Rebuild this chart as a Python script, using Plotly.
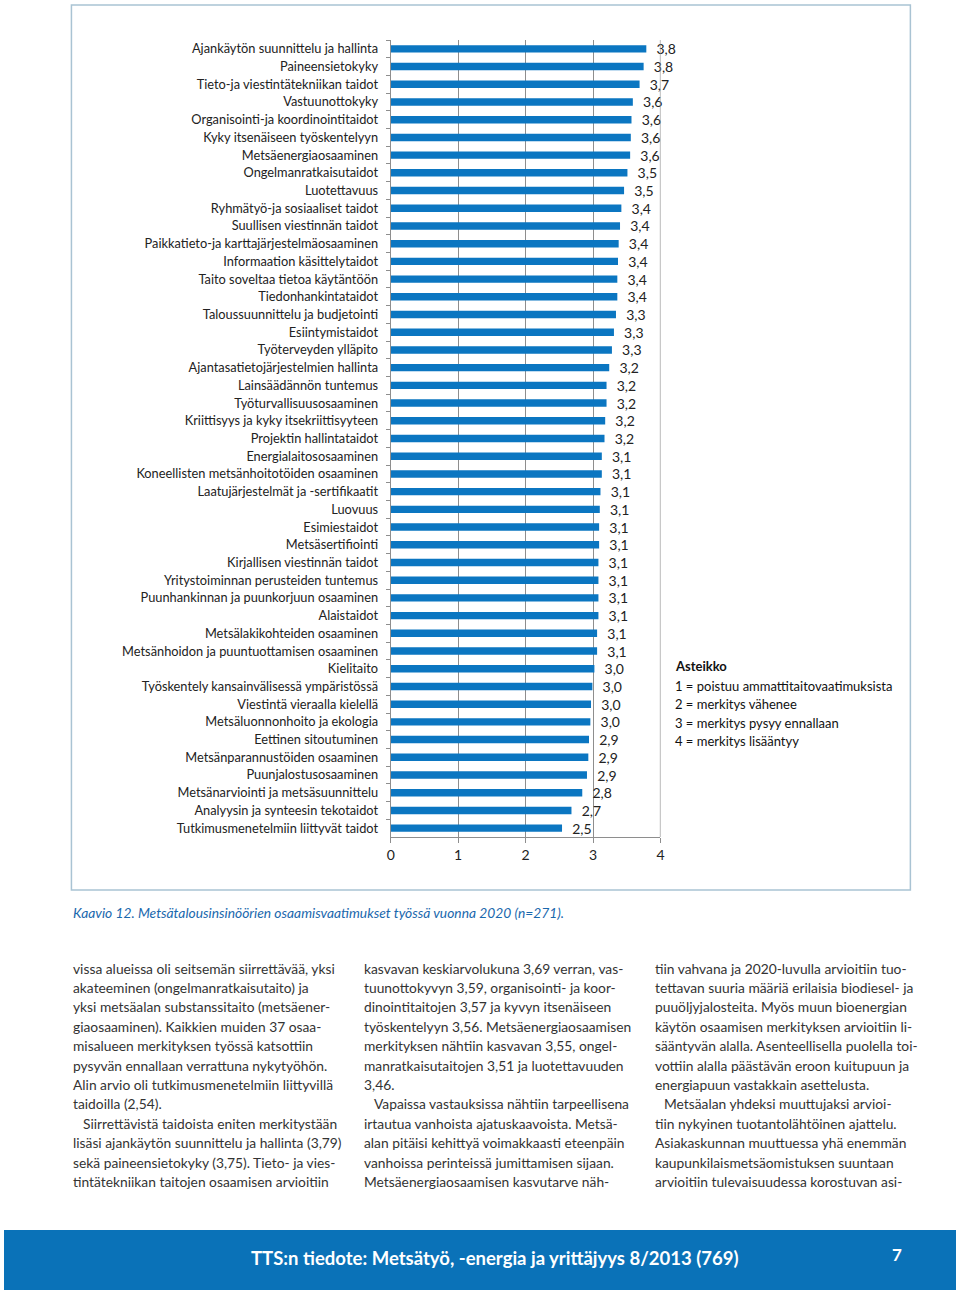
import plotly.graph_objects as go

W, H = 960, 1290

categories = [
    "Ajankäytön suunnittelu ja hallinta",
    "Paineensietokyky",
    "Tieto-ja viestintätekniikan taidot",
    "Vastuunottokyky",
    "Organisointi-ja koordinointitaidot",
    "Kyky itsenäiseen työskentelyyn",
    "Metsäenergiaosaaminen",
    "Ongelmanratkaisutaidot",
    "Luotettavuus",
    "Ryhmätyö-ja sosiaaliset taidot",
    "Suullisen viestinnän taidot",
    "Paikkatieto-ja karttajärjestelmäosaaminen",
    "Informaation käsittelytaidot",
    "Taito soveltaa tietoa käytäntöön",
    "Tiedonhankintataidot",
    "Taloussuunnittelu ja budjetointi",
    "Esiintymistaidot",
    "Työterveyden ylläpito",
    "Ajantasatietojärjestelmien hallinta",
    "Lainsäädännön tuntemus",
    "Työturvallisuusosaaminen",
    "Kriittisyys ja kyky itsekriittisyyteen",
    "Projektin hallintataidot",
    "Energialaitososaaminen",
    "Koneellisten metsänhoitotöiden osaaminen",
    "Laatujärjestelmät ja -sertifikaatit",
    "Luovuus",
    "Esimiestaidot",
    "Metsäsertifiointi",
    "Kirjallisen viestinnän taidot",
    "Yritystoiminnan perusteiden tuntemus",
    "Puunhankinnan ja puunkorjuun osaaminen",
    "Alaistaidot",
    "Metsälakikohteiden osaaminen",
    "Metsänhoidon ja puuntuottamisen osaaminen",
    "Kielitaito",
    "Työskentely kansainvälisessä ympäristössä",
    "Viestintä vieraalla kielellä",
    "Metsäluonnonhoito ja ekologia",
    "Eettinen sitoutuminen",
    "Metsänparannustöiden osaaminen",
    "Puunjalostusosaaminen",
    "Metsänarviointi ja metsäsuunnittelu",
    "Analyysin ja synteesin tekotaidot",
    "Tutkimusmenetelmiin liittyvät taidot",
]

values = [
    3.79, 3.75, 3.69, 3.59, 3.57, 3.56, 3.55, 3.51, 3.46, 3.42,
    3.40, 3.38, 3.37, 3.36, 3.36, 3.34, 3.31, 3.28, 3.24, 3.20,
    3.20, 3.18, 3.17, 3.13, 3.13, 3.11, 3.10, 3.09, 3.09, 3.08,
    3.08, 3.08, 3.08, 3.06, 3.06, 3.02, 2.99, 2.97, 2.96, 2.94,
    2.93, 2.91, 2.84, 2.68, 2.54,
]

value_labels = [
    "3,8", "3,8", "3,7", "3,6", "3,6", "3,6", "3,6", "3,5", "3,5", "3,4",
    "3,4", "3,4", "3,4", "3,4", "3,4", "3,3", "3,3", "3,3", "3,2", "3,2",
    "3,2", "3,2", "3,2", "3,1", "3,1", "3,1", "3,1", "3,1", "3,1", "3,1",
    "3,1", "3,1", "3,1", "3,1", "3,1", "3,0", "3,0", "3,0", "3,0", "2,9",
    "2,9", "2,9", "2,8", "2,7", "2,5",
]

x_ticks = [0, 1, 2, 3, 4]

scale_title = "Asteikko"
scale_lines = [
    "1 = poistuu ammattitaitovaatimuksista",
    "2 = merkitys vähenee",
    "3 = merkitys pysyy ennallaan",
    "4 = merkitys lisääntyy",
]

caption = "Kaavio 12. Metsätalousinsinöörien osaamisvaatimukset työssä vuonna 2020 (n=271)."

col1 = [
    "vissa alueissa oli seitsemän siirrettävää, yksi",
    "akateeminen (ongelmanratkaisutaito) ja",
    "yksi metsäalan substanssitaito (metsäener-",
    "giaosaaminen). Kaikkien muiden 37 osaa-",
    "misalueen merkityksen työssä katsottiin",
    "pysyvän ennallaan verrattuna nykytyöhön.",
    "Alin arvio oli tutkimusmenetelmiin liittyvillä",
    "taidoilla (2,54).",
    "Siirrettävistä taidoista eniten merkitystään",
    "lisäsi ajankäytön suunnittelu ja hallinta (3,79)",
    "sekä paineensietokyky (3,75). Tieto- ja vies-",
    "tintätekniikan taitojen osaamisen arvioitiin",
]
col2 = [
    "kasvavan keskiarvolukuna 3,69 verran, vas-",
    "tuunottokyvyn 3,59, organisointi- ja koor-",
    "dinointitaitojen 3,57 ja kyvyn itsenäiseen",
    "työskentelyyn 3,56. Metsäenergiaosaamisen",
    "merkityksen nähtiin kasvavan 3,55, ongel-",
    "manratkaisutaitojen 3,51 ja luotettavuuden",
    "3,46.",
    "Vapaissa vastauksissa nähtiin tarpeellisena",
    "irtautua vanhoista ajatuskaavoista. Metsä-",
    "alan pitäisi kehittyä voimakkaasti eteenpäin",
    "vanhoissa perinteissä jumittamisen sijaan.",
    "Metsäenergiaosaamisen kasvutarve näh-",
]
col3 = [
    "tiin vahvana ja 2020-luvulla arvioitiin tuo-",
    "tettavan suuria määriä erilaisia biodiesel- ja",
    "puuöljyjalosteita. Myös muun bioenergian",
    "käytön osaamisen merkityksen arvioitiin li-",
    "sääntyvän alalla. Asenteellisella puolella toi-",
    "vottiin alalla päästävän eroon kuitupuun ja",
    "energiapuun vastakkain asettelusta.",
    "Metsäalan yhdeksi muuttujaksi arvioi-",
    "tiin nykyinen tuotantolähtöinen ajattelu.",
    "Asiakaskunnan muuttuessa yhä enemmän",
    "kaupunkilaismetsäomistuksen suuntaan",
    "arvioitiin tulevaisuudessa korostuvan asi-",
]
indent_rows = [[8], [7], [7]]

footer_text = "TTS:n tiedote: Metsätyö, -energia ja yrittäjyys 8/2013 (769)"
page_no = "7"


def px(x):
    return x / W


def py(y):
    return 1 - y / H


FONT = "Lato"
BAR = "#0b76c1"
GRID = "#8e8e8e"

fig = go.Figure(
    go.Bar(
        x=values,
        y=categories,
        orientation="h",
        marker=dict(color=BAR, line=dict(width=0)),
        width=0.42,
        text=value_labels,
        texttemplate="  %{text}",
        textposition="outside",
        textfont=dict(family=FONT, size=14, color="#222"),
        cliponaxis=False,
        constraintext="none",
        hoverinfo="x+y",
    )
)

fig.update_layout(
    width=W,
    height=H,
    margin=dict(l=0, r=0, t=0, b=0),
    paper_bgcolor="white",
    plot_bgcolor="white",
    showlegend=False,
    font=dict(family=FONT, color="#222"),
    xaxis=dict(
        domain=[px(390), px(662)],
        range=[0, 4],
        tickvals=x_ticks,
        ticktext=[str(t) for t in x_ticks],
        showgrid=True,
        gridcolor=GRID,
        gridwidth=1.2,
        showline=True,
        linecolor=GRID,
        linewidth=1.2,
        ticks="outside",
        ticklen=5,
        tickcolor=GRID,
        tickfont=dict(family=FONT, size=14, color="#222"),
        zeroline=False,
        fixedrange=True,
    ),
    yaxis=dict(
        domain=[py(837), py(40)],
        autorange="reversed",
        categoryorder="array",
        categoryarray=categories,
        tickson="boundaries",
        ticks="outside",
        ticklen=4,
        tickcolor=GRID,
        showline=True,
        linecolor=GRID,
        linewidth=1.2,
        showgrid=False,
        tickfont=dict(family=FONT, size=12.8, color="#222"),
        ticklabelstandoff=9,
        fixedrange=True,
    ),
)

shapes = []
shapes.append(dict(type="line", xref="x", yref="y domain", x0=4, x1=4, y0=0, y1=1,
                   line=dict(color=GRID, width=1.2)))
shapes.append(dict(type="rect", xref="paper", yref="paper", x0=px(68), x1=px(914),
                   y0=py(890), y1=py(5), line=dict(color="#a9c3d3", width=1.5), layer="below"))
shapes.append(dict(type="rect", xref="paper", yref="paper", x0=0, x1=1,
                   y0=0, y1=py(1230), line=dict(width=0), fillcolor="#0a72b8", layer="below"))
fig.update_layout(shapes=shapes)

ann = []
ann.append(dict(text="<b>" + scale_title + "</b>", x=px(675), y=py(666), xref="paper", yref="paper",
                xanchor="left", yanchor="middle", showarrow=False,
                font=dict(family=FONT, size=13, color="#111")))
for i, line in enumerate(scale_lines):
    ann.append(dict(text=line, x=px(675), y=py(686 + i * 18.3), xref="paper", yref="paper",
                    xanchor="left", yanchor="middle", showarrow=False,
                    font=dict(family=FONT, size=13, color="#111")))
ann.append(dict(text="<i>" + caption + "</i>", x=px(68), y=py(912), xref="paper", yref="paper",
                xanchor="left", yanchor="middle", showarrow=False,
                font=dict(family=FONT, size=13.8, color="#1a68ad")))
for col_x, lines, indents in zip([68, 361, 654], [col1, col2, col3], indent_rows):
    for i, line in enumerate(lines):
        x = col_x + (10 if i in indents else 0)
        ann.append(dict(text=line, x=px(x), y=py(968 + i * 19.4), xref="paper", yref="paper",
                        xanchor="left", yanchor="middle", showarrow=False,
                        font=dict(family=FONT, size=13.8, color="#333")))
ann.append(dict(text="<b>" + footer_text + "</b>", x=px(495), y=py(1258), xref="paper", yref="paper",
                xanchor="center", yanchor="middle", showarrow=False,
                font=dict(family=FONT, size=18.5, color="white")))
ann.append(dict(text="<b>" + page_no + "</b>", x=px(901), y=py(1254), xref="paper", yref="paper",
                xanchor="center", yanchor="middle", showarrow=False,
                font=dict(family=FONT, size=17, color="white")))
fig.update_layout(annotations=ann)

fig.write_html(
    "out.html",
    config={"displayModeBar": False},
    post_script=(
        "document.documentElement.style.margin='0';"
        "document.documentElement.style.padding='0';"
        "document.documentElement.style.overflow='hidden';"
        "document.body.style.margin='0';"
        "document.body.style.padding='0';"
        "document.body.style.overflow='hidden';"
    ),
)
